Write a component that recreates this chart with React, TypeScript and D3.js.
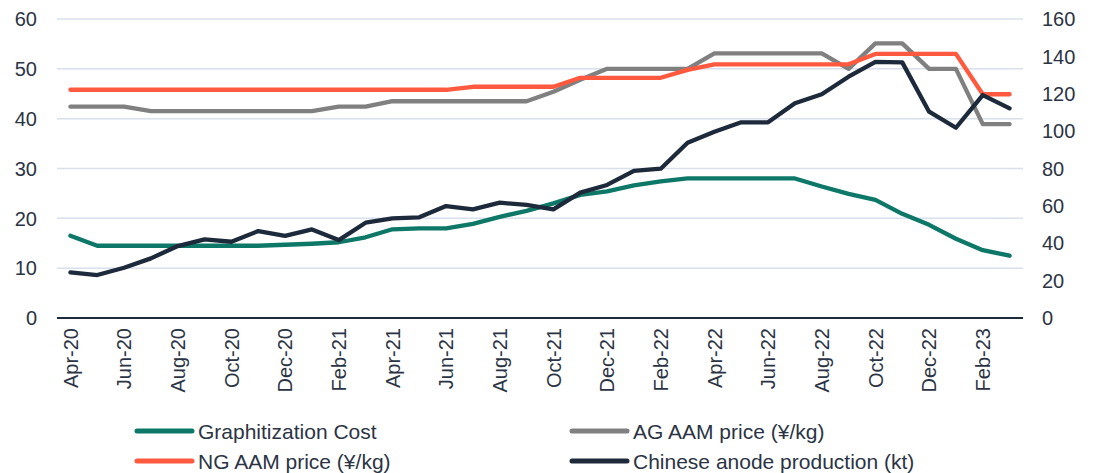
import React from 'react';
import * as d3 from 'd3';

const months = [
  'Apr-20', 'May-20', 'Jun-20', 'Jul-20', 'Aug-20', 'Sep-20', 'Oct-20', 'Nov-20', 'Dec-20',
  'Jan-21', 'Feb-21', 'Mar-21', 'Apr-21', 'May-21', 'Jun-21', 'Jul-21', 'Aug-21', 'Sep-21',
  'Oct-21', 'Nov-21', 'Dec-21', 'Jan-22', 'Feb-22', 'Mar-22', 'Apr-22', 'May-22', 'Jun-22',
  'Jul-22', 'Aug-22', 'Sep-22', 'Oct-22', 'Nov-22', 'Dec-22', 'Jan-23', 'Feb-23', 'Mar-23',
];

// left axis series
const graphitizationCost = [
  16.5, 14.5, 14.5, 14.5, 14.5, 14.5, 14.5, 14.5, 14.7, 14.9, 15.2, 16.2, 17.8, 18.0, 18.0, 18.9, 20.3, 21.5,
  23.0, 24.7, 25.4, 26.6, 27.4, 28.0, 28.0, 28.0, 28.0, 28.0, 26.4, 24.9, 23.7, 20.9, 18.7, 15.9, 13.6, 12.5,
];
const agPrice = [
  42.4, 42.4, 42.4, 41.5, 41.5, 41.5, 41.5, 41.5, 41.5, 41.5, 42.4, 42.4, 43.5, 43.5, 43.5, 43.5, 43.5, 43.5,
  45.4, 47.8, 50, 50, 50, 50, 53.1, 53.1, 53.1, 53.1, 53.1, 50, 55.1, 55.1, 50, 50, 38.9, 38.9,
];
const ngPrice = [
  45.8, 45.8, 45.8, 45.8, 45.8, 45.8, 45.8, 45.8, 45.8, 45.8, 45.8, 45.8, 45.8, 45.8, 45.8, 46.4, 46.4, 46.4,
  46.4, 48.2, 48.2, 48.2, 48.2, 49.8, 50.9, 50.9, 50.9, 50.9, 50.9, 50.9, 53.0, 53.0, 53.0, 53.0, 44.9, 44.9,
];
// right axis series
const anodeProduction = [
  24.4, 23.0, 26.9, 31.9, 38.5, 42.1, 40.8, 46.5, 43.9, 47.4, 41.7, 51.0, 53.3, 53.9, 59.9, 58.1, 61.7, 60.5,
  58.1, 67.1, 71.2, 78.7, 79.9, 93.8, 99.7, 104.7, 104.7, 114.9, 119.7, 129.1, 137.1, 136.8, 110.4, 101.8, 119.3, 112.2,
];

const leftTicks = [0, 10, 20, 30, 40, 50, 60];
const rightTicks = [0, 20, 40, 60, 80, 100, 120, 140, 160];

const W = 1102;
const H = 473;
const M = { left: 57, right: 1023, top: 19, bottom: 318 };
const font = '"Liberation Sans", Arial, sans-serif';
const textColor = '#2b3444';

const series = [
  { name: 'Graphitization Cost', values: graphitizationCost, color: '#0e7868', axis: 'left' },
  { name: 'AG AAM price (¥/kg)', values: agPrice, color: '#808080', axis: 'left' },
  { name: 'NG AAM price (¥/kg)', values: ngPrice, color: '#ff5a40', axis: 'left' },
  { name: 'Chinese anode production (kt)', values: anodeProduction, color: '#1d2a3b', axis: 'right' },
];

const legendPos = [
  { x: 137, y: 431 },
  { x: 572, y: 431 },
  { x: 137, y: 461 },
  { x: 572, y: 461 },
];

export default function App() {
  const x = d3.scaleBand().domain(months).range([M.left, M.right]);
  const cx = (m: string) => (x(m) as number) + x.bandwidth() / 2;
  const yL = d3.scaleLinear().domain([0, 60]).range([M.bottom, M.top]);
  const yR = d3.scaleLinear().domain([0, 160]).range([M.bottom, M.top]);

  const lineFor = (s: typeof series[number]) => {
    const y = s.axis === 'left' ? yL : yR;
    return d3
      .line<number>()
      .x((_, i) => cx(months[i]))
      .y((v) => y(v))(s.values) as string;
  };

  return (
    <svg
      width={W}
      height={H}
      style={{ position: 'absolute', left: 0, top: 0, background: '#fff' }}
      fontFamily={font}
    >
      {leftTicks.slice(1).map((t) => (
        <line key={t} x1={M.left} x2={M.right} y1={yL(t)} y2={yL(t)} stroke="#d8e0eb" strokeWidth={1.5} />
      ))}
      <line x1={M.left} x2={M.right} y1={M.bottom} y2={M.bottom} stroke="#1d2a3b" strokeWidth={2} />

      {leftTicks.map((t) => (
        <text key={t} x={37} y={yL(t)} dy="0.36em" textAnchor="end" fontSize={20} fill={textColor}>
          {t}
        </text>
      ))}
      {rightTicks.map((t) => (
        <text key={t} x={1042} y={yR(t)} dy="0.36em" textAnchor="start" fontSize={20} fill={textColor}>
          {t}
        </text>
      ))}
      {months.filter((_, i) => i % 2 === 0).map((m) => (
        <text
          key={m}
          transform={`translate(${cx(m)},${M.bottom + 10}) rotate(-90)`}
          dy="0.36em"
          textAnchor="end"
          fontSize={20}
          fill={textColor}
        >
          {m}
        </text>
      ))}

      {series.map((s) => (
        <path
          key={s.name}
          d={lineFor(s)}
          fill="none"
          stroke={s.color}
          strokeWidth={4.3}
          strokeLinejoin="round"
          strokeLinecap="round"
        />
      ))}

      {series.map((s, i) => (
        <g key={s.name} transform={`translate(${legendPos[i].x},${legendPos[i].y})`}>
          <line x1={0} x2={55} y1={0} y2={0} stroke={s.color} strokeWidth={5} strokeLinecap="round" />
          <text x={61} y={0} dy="0.36em" fontSize={21} fill={textColor}>
            {s.name}
          </text>
        </g>
      ))}
    </svg>
  );
}
